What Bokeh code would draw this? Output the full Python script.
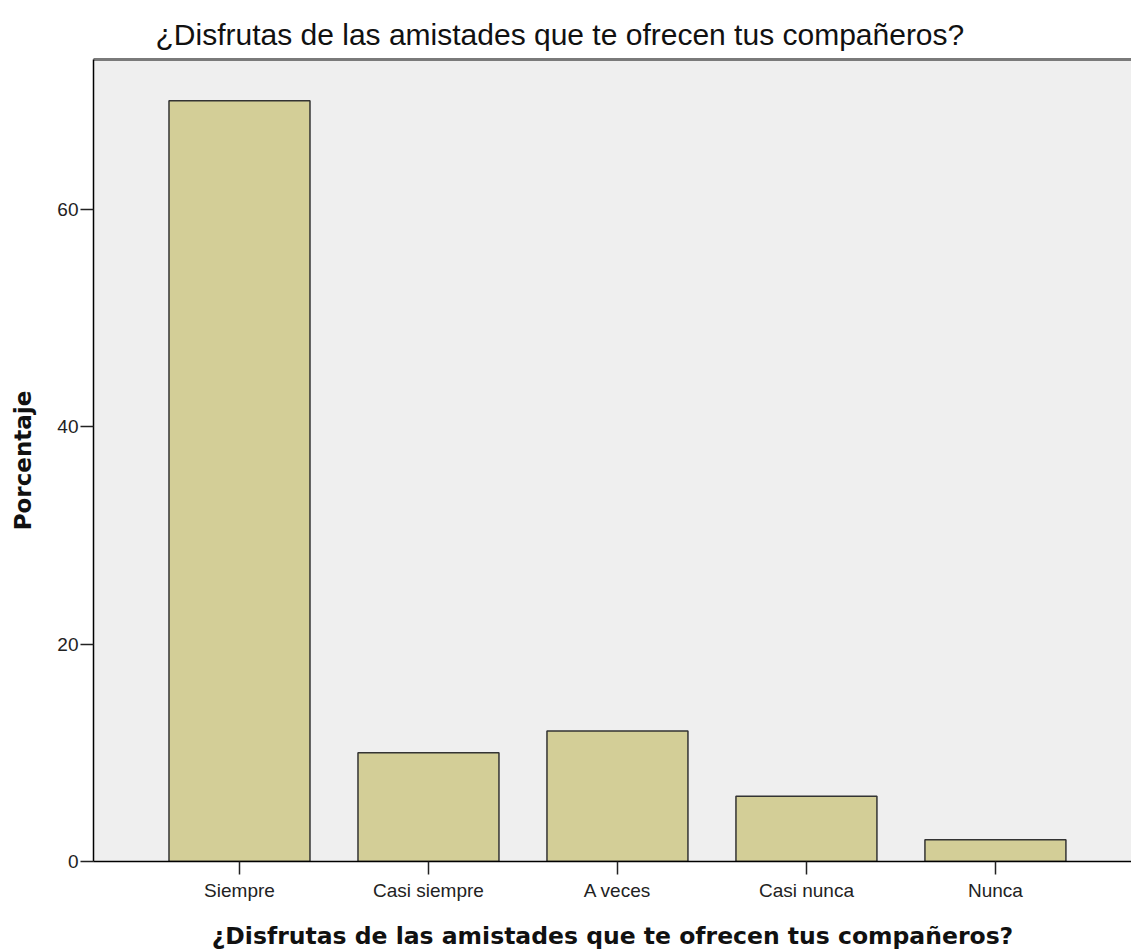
from bokeh.plotting import figure
from bokeh.models import Range1d, FixedTicker, LinearAxis, ColumnDataSource
from bokeh.embed import file_html
from bokeh.resources import INLINE

# ---- data ----
categories = ["Siempre", "Casi siempre", "A veces", "Casi nunca", "Nunca"]
positions = [1, 2, 3, 4, 5]
percentages = [70.0, 10.0, 12.0, 6.0, 2.0]
y_ticks = [0, 20, 40, 60]
title_text = "¿Disfrutas de las amistades que te ofrecen tus compañeros?"
x_label = "¿Disfrutas de las amistades que te ofrecen tus compañeros?"
y_label = "Porcentaje"

source = ColumnDataSource(dict(x=positions, y=percentages, cat=categories))

p = figure(
    width=1131, height=952,
    output_backend="svg", toolbar_location=None,
    x_range=Range1d(0.2275, 5.72), y_range=Range1d(0, 73.8),
    min_border_left=93, min_border_top=59, min_border_bottom=90, min_border_right=0,
    background_fill_color="#EFEFEF", border_fill_color="white",
    title=title_text,
)
p.outline_line_color = None
p.grid.grid_line_color = None

p.title.text_font = "Liberation Sans"
p.title.text_font_size = "30px"
p.title.text_font_style = "normal"
p.title.text_color = "#111111"
p.title.align = "left"
p.title.offset = 62
p.title.standoff = 18

p.vbar(x="x", top="y", width=0.746, bottom=0, source=source,
       fill_color="#D3CE97", line_color="#333333", line_width=1.5)

# x axis
xa = p.xaxis[0]
xa.ticker = FixedTicker(ticks=positions)
xa.major_label_overrides = {pos: c for pos, c in zip(positions, categories)}
xa.axis_label = x_label
xa.axis_label_text_font = "DejaVu Sans"
xa.axis_label_text_font_style = "bold"
xa.axis_label_text_font_size = "23.5px"
xa.axis_label_text_color = "#111111"
xa.axis_label_standoff = 18
xa.major_label_text_font = "Liberation Sans"
xa.major_label_text_font_size = "19px"
xa.major_label_text_color = "#222222"
xa.major_label_standoff = 5
xa.axis_line_color = "black"
xa.axis_line_width = 1.5
xa.major_tick_line_color = "#222222"
xa.major_tick_line_width = 1.5
xa.major_tick_out = 13
xa.major_tick_in = 0
xa.minor_tick_line_color = None

# y axis
ya = p.yaxis[0]
ya.ticker = FixedTicker(ticks=y_ticks)
ya.axis_label = y_label
ya.axis_label_text_font = "DejaVu Sans"
ya.axis_label_text_font_style = "bold"
ya.axis_label_text_font_size = "23px"
ya.axis_label_text_color = "#111111"
ya.axis_label_standoff = 18
ya.major_label_text_font = "Liberation Sans"
ya.major_label_text_font_size = "19px"
ya.major_label_text_color = "#222222"
ya.major_label_standoff = 2
ya.axis_line_color = "black"
ya.axis_line_width = 1.5
ya.major_tick_line_color = "#222222"
ya.major_tick_line_width = 1.5
ya.major_tick_out = 13
ya.major_tick_in = 0
ya.minor_tick_line_color = None

# top border line
top = LinearAxis(ticker=FixedTicker(ticks=[]))
top.axis_line_color = "#7a7a7a"
top.axis_line_width = 3
top.major_tick_line_color = None
top.minor_tick_line_color = None
top.major_label_text_font_size = "0px"
p.add_layout(top, "above")

open("out.html", "w").write(file_html(p, INLINE))
